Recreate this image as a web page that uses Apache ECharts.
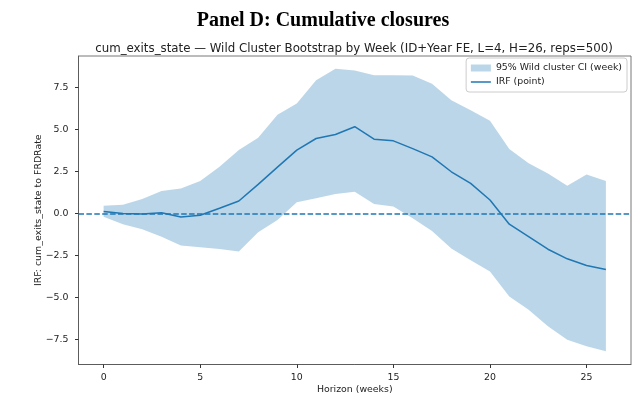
<!DOCTYPE html>
<html>
<head>
<meta charset="utf-8">
<script src="https://cdn.jsdelivr.net/npm/echarts@6/dist/echarts.min.js"></script>
<style>
  html, body { margin: 0; padding: 0; background: #fff; }
  #chart { width: 636px; height: 395px; }
</style>
</head>
<body>
<div id="chart"></div>
<script>
// Horizon in weeks
const weeks = [0, 1, 2, 3, 4, 5, 6, 7, 8, 9, 10, 11, 12, 13, 14, 15, 16, 17, 18, 19, 20, 21, 22, 23, 24, 25, 26];
// Point estimate of the impulse response
const irfPoint = [0.10, -0.02, -0.05, 0.03, -0.22, -0.12, 0.30, 0.73, 1.72, 2.75, 3.76, 4.45, 4.69, 5.15, 4.41, 4.31, 3.85, 3.36, 2.47, 1.78, 0.79, -0.65, -1.39, -2.14, -2.71, -3.11, -3.35];
// 95% wild cluster bootstrap band
const ciLower = [-0.20, -0.65, -0.95, -1.39, -1.92, -2.02, -2.12, -2.28, -1.13, -0.40, 0.65, 0.90, 1.15, 1.28, 0.55, 0.40, -0.30, -1.05, -2.10, -2.80, -3.46, -4.95, -5.74, -6.73, -7.52, -7.92, -8.21];
const ciUpper = [0.45, 0.51, 0.85, 1.32, 1.48, 1.92, 2.77, 3.76, 4.50, 5.87, 6.53, 7.91, 8.60, 8.50, 8.21, 8.21, 8.20, 7.71, 6.72, 6.13, 5.50, 3.82, 2.97, 2.37, 1.64, 2.31, 1.92];
// Tick spacing on each axis
const xStep = 5;
const yStep = 2.5;

const BLUE = '#1f77b4';
const BAND = 'rgba(31,119,180,0.3)';
const FONT = 'DejaVu Sans';
const TXT = 9.4;
const SPINE = { color: '#555', width: 0.8 };
const TICK = { color: '#333', width: 1 };

const chart = echarts.init(document.getElementById('chart'), null, { renderer: 'canvas' });

const fmt = v => (v < 0 ? '\u2212' : '') + Math.abs(v).toFixed(1);

chart.setOption({
  animation: false,
  backgroundColor: '#fff',
  title: [
    {
      text: 'Panel D: Cumulative closures',
      left: 318, top: 6, textAlign: 'center',
      textStyle: { fontFamily: 'Liberation Serif', fontWeight: 'bold', fontSize: 20, color: '#000' }
    },
    {
      text: 'cum_exits_state \u2014 Wild Cluster Bootstrap by Week (ID+Year FE, L=4, H=26, reps=500)',
      left: 349, top: 38, textAlign: 'center',
      textStyle: { fontFamily: FONT, fontWeight: 'normal', fontSize: 11.8, color: '#222' }
    }
  ],
  grid: {
    left: 78.5, right: 5, top: 56, bottom: 30.5,
    show: true, borderColor: '#555', borderWidth: 0.8,
    containLabel: false, outerBoundsMode: 'none'
  },
  legend: {
    orient: 'vertical', right: 9, top: 58, align: 'left',
    itemWidth: 20, itemHeight: 7, itemGap: 2,
    padding: [4, 5, 4, 4],
    borderColor: '#ccc', borderWidth: 1, borderRadius: 3,
    backgroundColor: 'rgba(255,255,255,0.8)',
    textStyle: { fontFamily: FONT, fontSize: TXT, color: '#222', lineHeight: 12 },
    data: [
      { name: '95% Wild cluster CI (week)', icon: 'rect', itemStyle: { color: BAND } },
      { name: 'IRF (point)', itemStyle: { opacity: 0 }, lineStyle: { color: BLUE, width: 1.5 } }
    ]
  },
  xAxis: {
    type: 'value', min: -1.3, max: 27.3,
    minInterval: xStep, maxInterval: xStep,
    name: 'Horizon (weeks)', nameLocation: 'middle', nameGap: 21, nameMoveOverlap: false,
    nameTextStyle: { fontFamily: FONT, fontSize: TXT, color: '#222' },
    axisLine: { show: true, onZero: false, lineStyle: SPINE },
    splitLine: { show: false },
    axisTick: { show: true, inside: false, length: 3.5, lineStyle: TICK },
    axisLabel: { showMinLabel: false, showMaxLabel: false, margin: 9, fontFamily: FONT, fontSize: TXT, color: '#222', formatter: v => String(v) }
  },
  yAxis: {
    type: 'value', min: -9.0, max: 9.36,
    minInterval: yStep, maxInterval: yStep,
    name: 'IRF: cum_exits_state to FRDRate', nameLocation: 'middle', nameGap: 35, nameRotate: 90, nameMoveOverlap: false,
    nameTextStyle: { fontFamily: FONT, fontSize: TXT, color: '#222' },
    axisLine: { show: true, onZero: false, lineStyle: SPINE },
    splitLine: { show: false },
    axisTick: { show: true, inside: false, length: 3.5, lineStyle: TICK },
    axisLabel: { showMinLabel: false, showMaxLabel: false, margin: 10, fontFamily: FONT, fontSize: TXT, color: '#222', formatter: fmt }
  },
  series: [
    {
      name: '95% Wild cluster CI (week)',
      type: 'custom',
      itemStyle: { color: BAND },
      data: weeks.map((w, i) => [w, ciLower[i], ciUpper[i]]),
      encode: { x: 0, y: [1, 2] },
      z: 1,
      renderItem: function (params, api) {
        if (params.dataIndex !== 0) return null;
        const pts = [];
        for (let i = 0; i < weeks.length; i++) pts.push(api.coord([weeks[i], ciUpper[i]]));
        for (let i = weeks.length - 1; i >= 0; i--) pts.push(api.coord([weeks[i], ciLower[i]]));
        return { type: 'polygon', shape: { points: pts }, style: { fill: BAND, stroke: null } };
      }
    },
    {
      name: 'IRF (point)',
      type: 'line',
      data: weeks.map((w, i) => [w, irfPoint[i]]),
      symbol: 'none',
      lineStyle: { color: BLUE, width: 1.5 },
      itemStyle: { color: BLUE },
      z: 3,
      markLine: {
        silent: true, symbol: 'none', label: { show: false },
        lineStyle: { color: BLUE, type: [5.5, 2.4], width: 1.5 },
        data: [{ yAxis: 0 }]
      }
    }
  ]
});
</script>
</body>
</html>
